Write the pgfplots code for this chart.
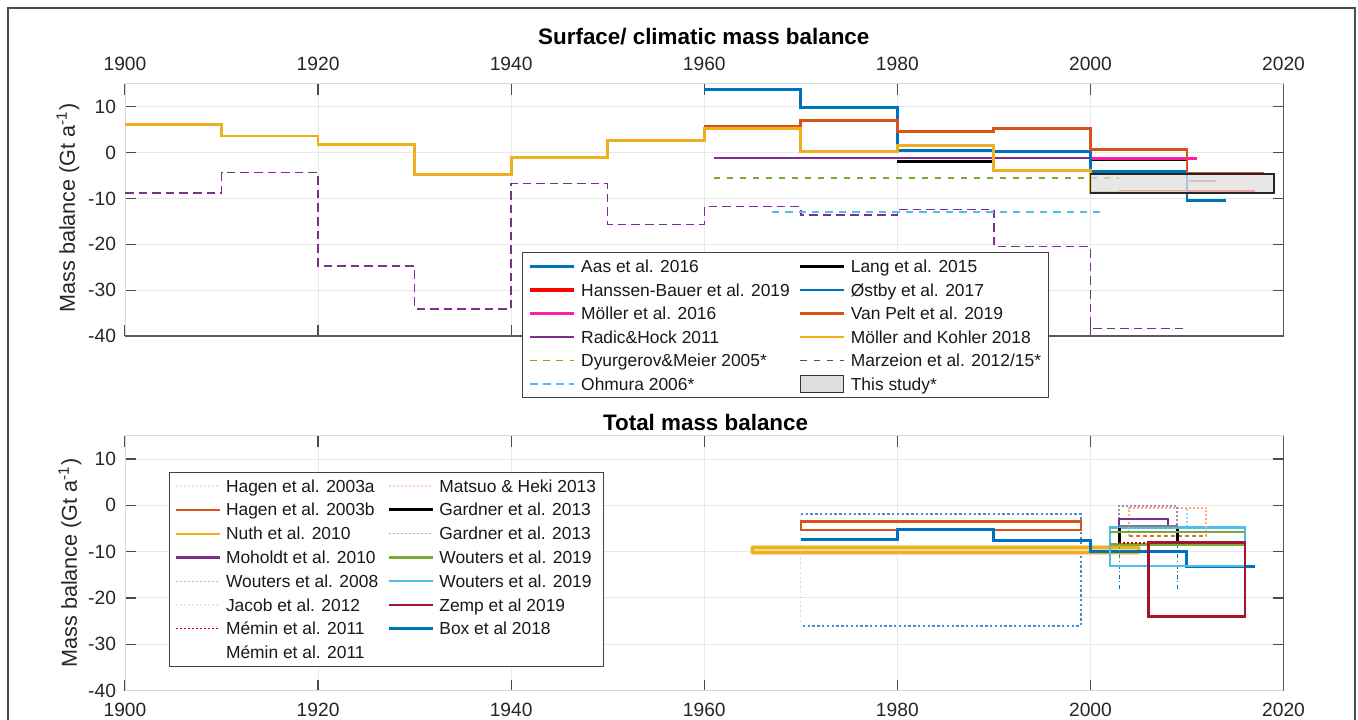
\documentclass[border=0pt]{standalone}
\usepackage{fontspec}
\setmainfont{Liberation Sans}
\usepackage{pgfplots}
\pgfplotsset{compat=1.18}

\definecolor{mblue}{RGB}{0,114,189}
\definecolor{morange}{RGB}{217,83,25}
\definecolor{myellow}{RGB}{237,177,32}
\definecolor{mpurple}{RGB}{126,47,142}
\definecolor{mgreen}{RGB}{119,172,48}
\definecolor{mcyan}{RGB}{77,190,238}
\definecolor{mred}{RGB}{162,20,47}
\definecolor{mpink}{RGB}{255,30,170}
\definecolor{hblue}{RGB}{70,140,210}

\pgfplotsset{
  mb/.style={
    scale only axis, width=579.25pt, clip=false,
    xmin=1900, xmax=2020, ymin=-40, ymax=15,
    xtick={1900,1920,...,2020}, xticklabels={1900,1920,1940,1960,1980,2000,2020},
    ytick={-40,-30,...,10}, yticklabels={-40,-30,-20,-10,0,10},
    tick align=inside, major tick length=5.5pt,
    tick style={black!70, line width=0.6pt},
    xtick pos=both, ytick pos=both,
    axis line style={gray!30, line width=0.5pt},
    grid=major, major grid style={gray!18, line width=0.5pt},
    tick label style={font=\fontsize{9.6}{11}\selectfont, text=black!85},
    yticklabel style={xshift=-1pt},
    legend columns=2, legend cell align=left,
    legend image code/.code={\draw[##1] (0pt,0pt) -- (22pt,0pt);},
  },
  mblegend/.style={
    legend style={draw=black!75, line width=0.6pt, fill=white,
      font=\fontsize{8.7}{10}\selectfont, inner xsep=2.5pt, inner ysep=1pt,
      row sep=0pt,
      nodes={inner xsep=1.2pt, inner ysep=0pt, text height=9pt, text depth=#1, text=black!90},
      /tikz/every odd column/.append style={column sep=1.3pt},
      /tikz/every even column/.append style={column sep=3.3pt}},
  },
}

\begin{document}
\begin{tikzpicture}

% ---------- Surface / climatic mass balance ----------
\begin{axis}[mb, mblegend=2.75pt, height=126.1pt,
    at={(62.5pt,191.5pt)}, anchor=south west,
    xticklabel pos=upper, xticklabel style={yshift=3.2pt},
    legend style={at={(0.3427,0.333)}, anchor=north west}]

\addplot[forget plot, const plot, mpurple, line width=0.7pt, dash pattern=on 4.3pt off 2.5pt]
  coordinates {(1900,-8.8)(1910,-4.3)(1920,-24.7)(1930,-34.1)(1940,-6.8)(1950,-15.7)
               (1960,-11.8)(1970,-13.6)(1980,-12.4)(1990,-20.5)(2000,-38.3)(2010,-38.3)};
\addplot[forget plot, mcyan, line width=1pt, dash pattern=on 3.7pt off 3pt]
  coordinates {(1967,-12.9)(2001,-12.9)};
\addplot[forget plot, mgreen, line width=1pt, dash pattern=on 3pt off 3.5pt]
  coordinates {(1961,-5.6)(2003,-5.6)};
\addplot[forget plot, mpurple, line width=1pt]
  coordinates {(1961,-1.1)(2000,-1.1)};
\addplot[forget plot, black, line width=1.2pt, unbounded coords=jump]
  coordinates {(1980,-1.9)(1990,-1.9)(1995,nan)(2000,-1.5)(2010,-1.5)};
\addplot[forget plot, mpink, line width=1.2pt]
  coordinates {(2000,-1.3)(2011,-1.3)};
\addplot[forget plot, red, line width=1pt]
  coordinates {(2003,-8.3)(2017,-8.3)};
\addplot[forget plot, gray, line width=1pt]
  coordinates {(2010.2,-6.3)(2013,-6.3)};
\addplot[forget plot, const plot, mblue, line width=1.4pt]
  coordinates {(1960,13.7)(1970,9.9)(1980,0.4)(1990,0.3)(2000,-4.1)(2010,-10.5)(2014,-10.5)};
\addplot[forget plot, const plot, morange, line width=1.4pt]
  coordinates {(1960,5.7)(1970,7.0)(1980,4.6)(1990,5.3)(2000,0.6)(2010,-4.6)(2018,-4.6)};
\addplot[forget plot, const plot, myellow, line width=1.4pt]
  coordinates {(1900,6.1)(1910,3.6)(1920,1.7)(1930,-4.7)(1940,-1.0)(1950,2.6)
               (1960,5.2)(1970,0.3)(1980,1.5)(1990,-3.9)(2000,-8.7)(2010,-8.7)};
% this study
\addplot[forget plot, fill=gray!25, fill opacity=0.75, draw=black!85, line width=0.7pt]
  coordinates {(2000,-4.65)(2019,-4.65)(2019,-8.8)(2000,-8.8)} --cycle;

\addlegendimage{mblue, line width=1.3pt}\addlegendentry{Aas et al. 2016}
\addlegendimage{black, line width=1.5pt}\addlegendentry{Lang et al. 2015}
\addlegendimage{red, line width=2.3pt}\addlegendentry{Hanssen-Bauer et al. 2019}
\addlegendimage{mblue, line width=1pt}\addlegendentry{Østby et al. 2017}
\addlegendimage{mpink, line width=1.6pt}\addlegendentry{Möller et al. 2016}
\addlegendimage{morange, line width=1.3pt}\addlegendentry{Van Pelt et al. 2019}
\addlegendimage{mpurple, line width=1.1pt}\addlegendentry{Radic\&Hock 2011}
\addlegendimage{myellow, line width=1pt}\addlegendentry{Möller and Kohler 2018}
\addlegendimage{mgreen, line width=0.6pt, dash pattern=on 3.3pt off 3.3pt}\addlegendentry{Dyurgerov\&Meier 2005*}
\addlegendimage{mpurple, line width=0.6pt, dash pattern=on 3.3pt off 3.3pt}\addlegendentry{Marzeion et al. 2012/15*}
\addlegendimage{mcyan, line width=1.2pt, dash pattern=on 4pt off 2.5pt}\addlegendentry{Ohmura 2006*}
\addlegendimage{legend image code/.code={\draw[fill=gray!25, draw=black!80, line width=0.6pt] (0pt,-4.3pt) rectangle (21.5pt,4.3pt);}}\addlegendentry{This study*}

\draw[black!65, line width=0.6pt] (rel axis cs:0,0) -- (rel axis cs:1,0) -- (rel axis cs:1,1);
\end{axis}

% ---------- Total mass balance ----------
\begin{axis}[mb, mblegend=2.9pt, height=127.3pt,
    at={(62.5pt,14.25pt)}, anchor=south west,
    xticklabel style={yshift=-2.8pt},
    legend style={at={(0.038,0.86)}, anchor=north west}]

% Hagen 2003a
\addplot[forget plot, hblue, line width=0.9pt, dash pattern=on 1.2pt off 1.2pt]
  coordinates {(1970,-1.9)(1999,-1.9)(1999,-26)(1970,-26)};
\addplot[forget plot, hblue!25, line width=0.6pt, dash pattern=on 1.2pt off 1.2pt]
  coordinates {(1970,-1.9)(1970,-26)};
% Hagen 2003b
\addplot[forget plot, morange, line width=1.2pt]
  coordinates {(1970,-3.5)(1999,-3.5)(1999,-5.3)(1970,-5.3)} --cycle;
% Nuth 2010
\addplot[forget plot, myellow!45, line width=2.6pt, line join=round]
  coordinates {(1965,-9.1)(2005,-9.1)(2005,-10.1)(1965,-10.1)} --cycle;
\addplot[forget plot, myellow, line width=1.5pt, line join=round]
  coordinates {(1965,-9.1)(2005,-9.1)(2005,-10.1)(1965,-10.1)} --cycle;
% Box 2018
\addplot[forget plot, const plot, mblue, line width=1.5pt]
  coordinates {(1970,-7.4)(1980,-5.2)(1990,-7.7)(2000,-9.9)(2010,-13.3)(2017,-13.3)};
% Jacob 2012 bars
\addplot[forget plot, mblue, line width=0.8pt, unbounded coords=jump,
    dash pattern=on 2pt off 1.3pt on 0.5pt off 1.3pt]
  coordinates {(2003,-4)(2003,-18)(2006,nan)(2009,-4)(2009,-18)};
\addplot[forget plot, mcyan!60, line width=0.8pt, dash pattern=on 1pt off 1pt]
  coordinates {(2010,-0.7)(2010,-4.3)};
% Wouters 2019 (cyan)
\addplot[forget plot, mcyan, line width=1.2pt]
  coordinates {(2002,-4.8)(2016,-4.8)(2016,-13.1)(2002,-13.1)} --cycle;
% Matsuo & Heki 2013
\addplot[forget plot, orange!35!pink, line width=0.9pt, dash pattern=on 1pt off 1pt]
  coordinates {(2004,-6.6)(2004,-0.5)(2012,-0.5)(2012,-6.6)};
\addplot[forget plot, morange!85, line width=0.9pt, dash pattern=on 2pt off 1.5pt]
  coordinates {(2004,-6.6)(2012,-6.6)};
% Gardner 2013 (dotted)
\addplot[forget plot, mpurple!60, line width=0.9pt, dash pattern=on 1pt off 1pt]
  coordinates {(2003,-6.5)(2003,-0.2)(2009,-0.2)(2009,-6.5)};
% Moholdt 2010
\addplot[forget plot, mpurple, line width=1pt]
  coordinates {(2003,-2.9)(2008,-2.9)(2008,-4.4)(2003,-4.4)} --cycle;
% Gardner 2013 (solid)
\addplot[forget plot, gray, line width=1pt]
  coordinates {(2003,-4.4)(2009,-4.4)};
\addplot[forget plot, black, line width=1.2pt, unbounded coords=jump]
  coordinates {(2003,-4.8)(2003,-8.4)(2006,nan)(2009,-5.2)(2009,-8.4)};
% Wouters 2019 (green)
\addplot[forget plot, mgreen, line width=1.2pt, unbounded coords=jump]
  coordinates {(2002,-5.7)(2016,-5.7)(2016,nan)(2002,-8.5)(2016,-8.5)};
% Wouters 2008
\addplot[forget plot, mgreen!70, line width=0.8pt, dash pattern=on 1pt off 1pt]
  coordinates {(2003,-8.6)(2003,-11.5)};
% Memin 2011
\addplot[forget plot, red!80!black, line width=0.9pt, dash pattern=on 1pt off 1pt]
  coordinates {(2003,-8.1)(2008,-8.1)};
% Zemp 2019
\addplot[forget plot, mred, line width=1.2pt]
  coordinates {(2006,-8)(2016,-8)(2016,-24)(2006,-24)} --cycle;

\addlegendimage{hblue!20, line width=0.6pt, dash pattern=on 1pt off 1pt}\addlegendentry{Hagen et al. 2003a}
\addlegendimage{orange!20!pink!60, line width=0.6pt, dash pattern=on 1pt off 1pt}\addlegendentry{Matsuo \& Heki 2013}
\addlegendimage{morange, line width=1.2pt}\addlegendentry{Hagen et al. 2003b}
\addlegendimage{black, line width=1.5pt}\addlegendentry{Gardner et al. 2013}
\addlegendimage{myellow, line width=1pt}\addlegendentry{Nuth et al. 2010}
\addlegendimage{mpurple!45, line width=0.6pt, dash pattern=on 1pt off 1pt}\addlegendentry{Gardner et al. 2013}
\addlegendimage{mpurple, line width=1.2pt}\addlegendentry{Moholdt et al. 2010}
\addlegendimage{mgreen, line width=1.2pt}\addlegendentry{Wouters et al. 2019}
\addlegendimage{mgreen!60, line width=0.6pt, dash pattern=on 1pt off 1pt}\addlegendentry{Wouters et al. 2008}
\addlegendimage{mcyan, line width=1.2pt}\addlegendentry{Wouters et al. 2019}
\addlegendimage{mcyan!25, line width=0.6pt, dash pattern=on 1pt off 1pt}\addlegendentry{Jacob et al. 2012}
\addlegendimage{mred, line width=1.2pt}\addlegendentry{Zemp et al 2019}
\addlegendimage{red!80!black, line width=0.6pt, dash pattern=on 1pt off 1pt}\addlegendentry{Mémin et al. 2011}
\addlegendimage{mblue, line width=1.6pt}\addlegendentry{Box et al 2018}
\addlegendimage{gray!8, line width=0.6pt, dash pattern=on 1pt off 1pt}\addlegendentry{Mémin et al. 2011}

\draw[black!65, line width=0.6pt] (rel axis cs:1,0) -- (rel axis cs:1,1);
\end{axis}

% titles, axis labels, frame
\node[anchor=base, font=\bfseries\fontsize{11.2}{13}\selectfont] at (351.9pt,337.4pt) {Surface/ climatic mass balance};
\node[anchor=base, font=\bfseries\fontsize{11.2}{13}\selectfont] at (352.8pt,144.5pt) {Total mass balance};
\node[rotate=90, font=\fontsize{10.8}{12}\selectfont, text=black!85] at (34pt,255.5pt) {Mass balance (Gt a\textsuperscript{-1})};
\node[rotate=90, font=\fontsize{10.8}{12}\selectfont, text=black!85] at (35pt,78pt) {Mass balance (Gt a\textsuperscript{-1})};
\draw[black!70, line width=0.6pt] (4pt,-5pt) rectangle (677.5pt,355.5pt);

\pgfresetboundingbox
\useasboundingbox (0,0) rectangle (679pt,359.5pt);
\end{tikzpicture}
\end{document}
